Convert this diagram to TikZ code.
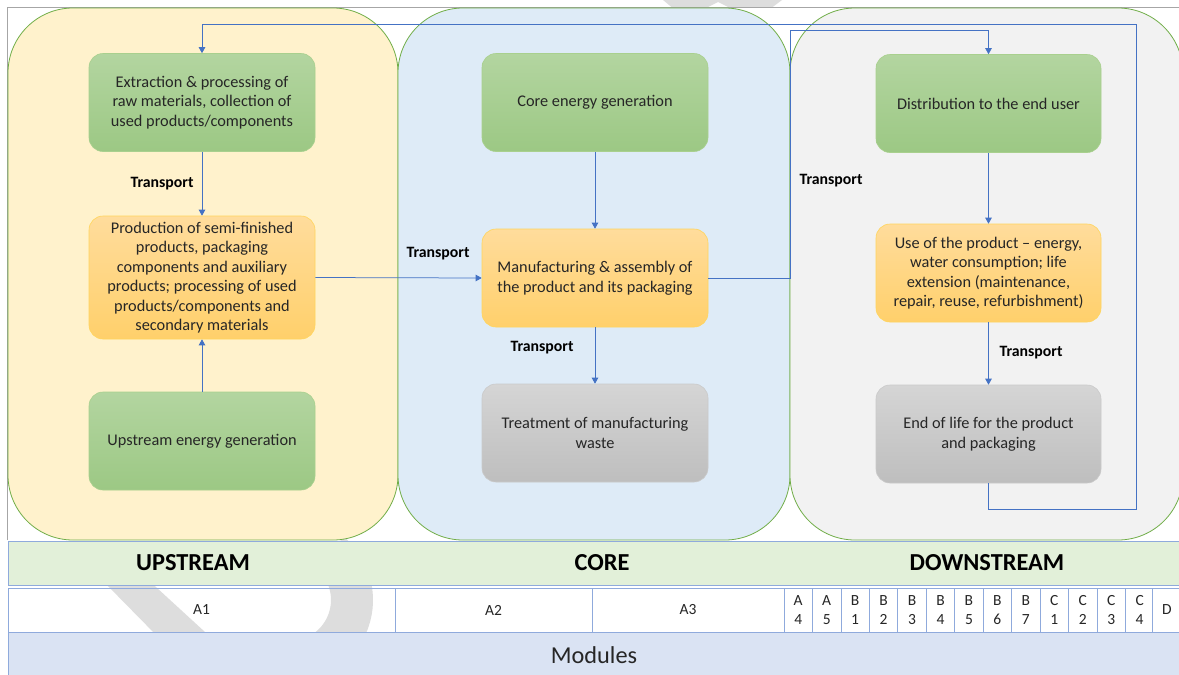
\documentclass[tikz,border=0pt]{standalone}
\usepackage{fontspec}
\setmainfont{Carlito}
\usepackage{tikz}
\usetikzlibrary{positioning,arrows.meta}
\definecolor{upfill}{HTML}{FFF2CC}
\definecolor{corefill}{HTML}{DEEBF7}
\definecolor{downfill}{HTML}{F2F2F2}
\definecolor{zoneline}{HTML}{70AD47}
\definecolor{flowblue}{HTML}{4472C4}
\definecolor{gridblue}{HTML}{8FAADC}
\definecolor{bandgreen}{HTML}{E2F0D9}
\definecolor{bandblue}{HTML}{DAE3F3}
\definecolor{framegray}{HTML}{A6A6A6}
\definecolor{wmark}{HTML}{DDDDDD}
\definecolor{txt}{HTML}{262626}
\definecolor{greentop}{HTML}{B3D5A0}
\definecolor{greenbot}{HTML}{9CC884}
\definecolor{greenline}{HTML}{A9D08E}
\definecolor{orangetop}{HTML}{FFDC9C}
\definecolor{orangebot}{HTML}{FFD06B}
\definecolor{orangeline}{HTML}{FFD55C}
\definecolor{graytop}{HTML}{D5D5D5}
\definecolor{graybot}{HTML}{BEBEBE}
\definecolor{grayline}{HTML}{CACACA}

\tikzset{
  stage/.style={rounded corners=14pt, minimum width=226pt, minimum height=98pt,
    align=center, text=txt, line width=0.6pt, inner sep=2pt,
    font=\fontsize{16.3}{19.5}\selectfont},
  energy/.style={stage, top color=greentop, bottom color=greenbot, draw=greenline},
  process/.style={stage, top color=orangetop, bottom color=orangebot, draw=orangeline},
  disposal/.style={stage, top color=graytop, bottom color=graybot, draw=grayline},
  zone/.style={draw=zoneline, line width=0.8pt, rounded corners=65pt},
  flow/.style={->, draw=flowblue, line width=0.75pt},
  transp/.style={text=black, font=\bfseries\fontsize{15.8}{18}\selectfont},
  phase/.style={text=black, font=\bfseries\fontsize{24.4}{26}\selectfont},
  cell/.style={draw=gridblue, fill=white, line width=0.8pt, minimum height=44pt,
    inner sep=0pt, align=center, text=txt, font=\fontsize{15.5}{18.5}\selectfont},
}

\begin{document}
\begin{tikzpicture}[x=1pt,y=-1pt,>={Triangle[width=6.5pt,length=6pt]}]
  \useasboundingbox[fill=white] (0,0) rectangle (1179,675);
  % watermark pieces
  \fill[wmark] (663,0) -- (782,0) -- (772,7.5) -- (729,7.5) -- (718,2) -- (707,7.5) -- (672,7.5) -- cycle;
  \fill[wmark] (104,582) -- (150.5,582) -- (213.7,640) -- (161,640) -- cycle;
  \draw[wmark, line width=42pt] (290,600) ++(-50:62) arc[start angle=-50, end angle=50, radius=62];
  % outer frame
  \draw[framegray, line width=0.8pt] (7,540) |- (1185,7.5);
  % life cycle zones
  \draw[zone, fill=upfill] (8,8) rectangle (398,540);
  \draw[zone, fill=corefill] (398,8) rectangle (790,540);
  \draw[zone, fill=downfill] (790,8) rectangle (1183,540);

  % upstream
  \node[energy] (extract) at (202,102.5) {Extraction \& processing of\\raw materials, collection of\\used products/components};
  \node[process, minimum height=123pt] (semi) at (202,277.5) {Production of semi-finished\\products, packaging\\components and auxiliary\\products; processing of used\\products/components and\\secondary materials};
  \node[energy] (upenergy) at (202,441) {Upstream energy generation};
  % core
  \node[energy] (coreenergy) at (595,102.5) {Core energy generation};
  \node[process] (manuf) at (595,278) {Manufacturing \& assembly of\\the product and its packaging};
  \node[disposal] (mwaste) at (595,433) {Treatment of manufacturing\\waste};
  % downstream
  \node[energy, minimum width=225pt] (distrib) at (988.5,103.5) {Distribution to the end user};
  \node[process, minimum width=225pt] (usephase) at (988.5,273) {Use of the product -- energy,\\water consumption; life\\extension (maintenance,\\repair, reuse, refurbishment)};
  \node[disposal, minimum width=225pt] (endlife) at (988.5,434) {End of life for the product\\and packaging};

  % flows
  \coordinate (fwd) at (790,30);
  \coordinate (back1) at (1136,509);
  \coordinate (back2) at (1136,24);
  \draw[flow] (extract) -- (semi);
  \draw[flow] (upenergy) -- (semi);
  \draw[flow] (semi.east) -- (manuf.west);
  \draw[flow] (coreenergy) -- (manuf);
  \draw[flow] (manuf) -- (mwaste);
  \draw[flow] (manuf.east) -| (fwd) -| (distrib.north);
  \draw[flow] (distrib) -- (usephase);
  \draw[flow] (usephase) -- (endlife);
  \draw[flow] (endlife.south) |- (back1) -- (back2) -| (extract.north);
  \node[transp] (t1) at (162,184) {Transport};
  \node[transp] (t2) at (438,254) {Transport};
  \node[transp] (t3) at (542,348) {Transport};
  \node[transp] (t4) at (831,181) {Transport};
  \node[transp] (t5) at (1031,353) {Transport};

  % phase band
  \draw[draw=gridblue, fill=bandgreen, line width=0.8pt] (8,541) rectangle (1185,585);
  \node[phase] (up) at (193,563) {UPSTREAM};
  \node[phase] (core) at (602,563) {CORE};
  \node[phase] (down) at (987,563) {DOWNSTREAM};

  % module row
  \node[cell, fill=none, minimum width=387pt] (a1) at (201.5,610) {A1};
  \node[cell, minimum width=197pt] (a2) at (493.5,610) {A2};
  \node[cell, minimum width=192pt] (a3) at (688,610) {A3};
  \foreach \m/\n [count=\i] in {A/4,A/5,B/1,B/2,B/3,B/4,B/5,B/6,B/7,C/1,C/2,C/3,C/4}
    \node[cell, minimum width=28.45pt] (mod\i) at ({784+(\i-0.5)*28.45},610) {\m\\\n};
  \node[cell, minimum width=28.45pt] (modd) at (1166.9,610) {D};
  \draw[draw=gridblue, fill=bandblue, line width=0.8pt] (8,632) rectangle (1185,680);
  \node[text=txt, font=\fontsize{24.3}{26}\selectfont] (modules) at (594,655) {Modules};
\end{tikzpicture}
\end{document}
